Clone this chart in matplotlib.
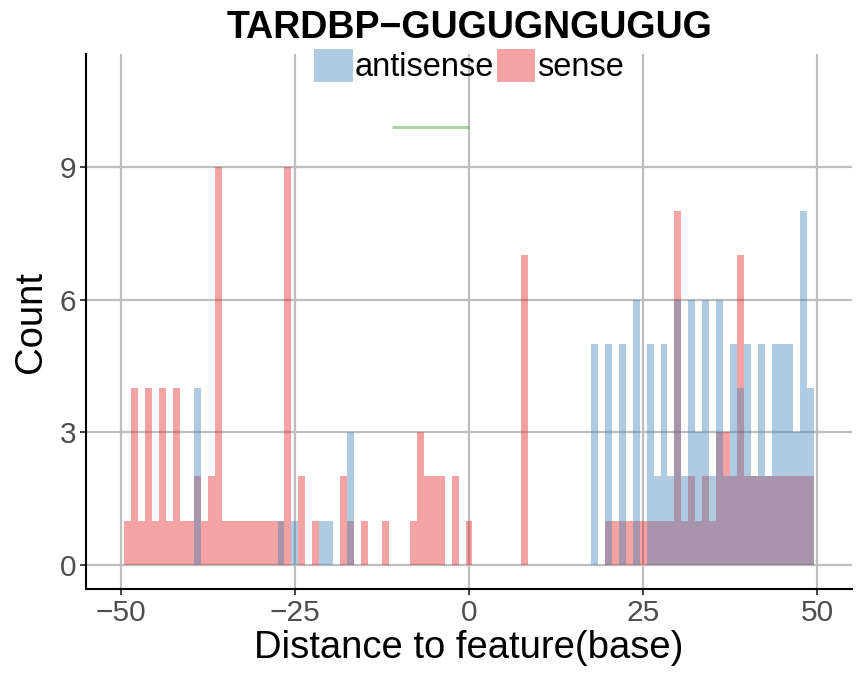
import numpy as np
import matplotlib
matplotlib.use("Agg")
import matplotlib.pyplot as plt
from matplotlib.patches import Patch

plt.rcParams["font.family"] = ["Liberation Sans", "DejaVu Sans"]

title = "TARDBP\u2212GUGUGNGUGUG"
positions = np.arange(-49, 50)  # one bin per base

sense = [1, 4, 1, 4, 1, 4, 1, 4, 1, 1,   # -49..-40
         2, 1, 2, 9, 1, 1, 1, 1, 1, 1,   # -39..-30
         1, 1, 1, 9, 0, 2, 0, 1, 0, 0,   # -29..-20
         0, 2, 1, 0, 1, 0, 0, 1, 0, 0,   # -19..-10
         0, 1, 3, 2, 2, 2, 0, 2, 0, 1,   # -9..0
         0, 0, 0, 0, 0, 0, 0, 7, 0, 0,   # 1..10
         0, 0, 0, 0, 0, 0, 0, 0, 0, 1,   # 11..20
         1, 1, 1, 1, 1, 1, 1, 1, 1, 8,   # 21..30
         1, 2, 1, 2, 1, 3, 3, 2, 7, 2,   # 31..40
         2, 2, 2, 2, 2, 2, 2, 2, 2]      # 41..49

antisense = [0, 0, 0, 0, 0, 0, 0, 0, 0, 0,
             4, 0, 0, 0, 0, 0, 0, 0, 0, 0,
             0, 0, 1, 0, 1, 0, 0, 0, 1, 1,
             0, 0, 3, 0, 0, 0, 0, 0, 0, 0,
             0, 0, 0, 0, 0, 0, 0, 0, 0, 0,
             0, 0, 0, 0, 0, 0, 0, 0, 0, 0,
             0, 0, 0, 0, 0, 0, 0, 5, 0, 5,
             0, 5, 0, 6, 0, 5, 2, 5, 2, 6,
             2, 6, 3, 6, 2, 6, 2, 5, 4, 5,
             2, 5, 2, 5, 5, 5, 3, 8, 4]

motif_start, motif_end = -11, 0
motif_y = 9.9

red = "#E41A1C"
blue = "#377EB8"
green = "#4DAF4A"

fig = plt.figure(figsize=(8.66, 6.78), dpi=100)
ax = fig.add_axes([86 / 866, 1 - 589.3 / 678, (852 - 86) / 866, (589.3 - 54) / 678])

ax.bar(positions, sense, width=1, color=red, alpha=0.4, linewidth=0, zorder=2)
ax.bar(positions, antisense, width=1, color=blue, alpha=0.4, linewidth=0, zorder=3)
ax.plot([motif_start, motif_end], [motif_y, motif_y], color=green, alpha=0.5, lw=2.2, zorder=4,
        solid_capstyle="butt")

ax.set_xlim(-55, 55)
ax.set_ylim(-0.55, 11.55)
ax.set_xticks([-50, -25, 0, 25, 50])
ax.set_xticklabels(["\u221250", "\u221225", "0", "25", "50"])
ax.set_yticks([0, 3, 6, 9])
ax.grid(True, color="#BEBEBE", lw=1.6, zorder=0)
ax.set_axisbelow(True)

for s in ["top", "right"]:
    ax.spines[s].set_visible(False)
for s in ["left", "bottom"]:
    ax.spines[s].set_linewidth(1.5)
    ax.spines[s].set_color("black")
ax.tick_params(axis="both", length=4, width=1.3, color="#333333", labelsize=21.5,
               labelcolor="#4D4D4D", pad=3)

ax.set_xlabel("Distance to feature(base)", fontsize=27.5, labelpad=2)
ax.set_ylabel("Count", fontsize=27.5, labelpad=8)
fig.text(470 / 866, 1 - 28 / 678, title, ha="center", va="center", fontsize=27,
         fontweight="bold")

handles = [Patch(facecolor=blue, alpha=0.4, lw=0), Patch(facecolor=red, alpha=0.4, lw=0)]
fig.legend(handles, ["antisense", "sense"], loc="center", bbox_to_anchor=(469 / 866, 1 - 66 / 678),
           ncol=2, frameon=False, fontsize=23.5, handlelength=1.18, handleheight=1.18,
           handletextpad=0.05, columnspacing=0.1, borderpad=0, borderaxespad=0)

fig.savefig("out.png", dpi=100)
